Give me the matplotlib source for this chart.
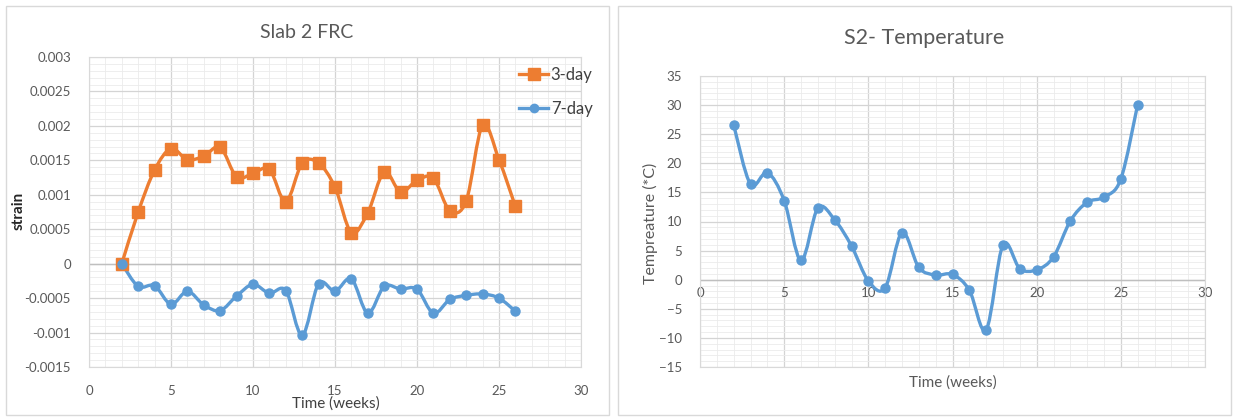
import numpy as np
import matplotlib
matplotlib.use("Agg")
import matplotlib.pyplot as plt
from matplotlib.path import Path
from matplotlib.patches import PathPatch, Rectangle
from matplotlib.lines import Line2D
from matplotlib.ticker import MultipleLocator

# ---------------- data ----------------
weeks = list(range(2, 27))
strain_3day = [0.0, 0.00075, 0.00136, 0.00167, 0.00151, 0.00156, 0.00169, 0.00126,
               0.00131, 0.00137, 0.00090, 0.00146, 0.00146, 0.00111, 0.00045, 0.00074,
               0.00133, 0.00104, 0.00121, 0.00124, 0.00077, 0.00091, 0.00201, 0.00151,
               0.00083]
strain_7day = [0.0, -0.00033, -0.00032, -0.00059, -0.00040, -0.00060, -0.00068, -0.00047,
               -0.00030, -0.00043, -0.00039, -0.00104, -0.00029, -0.00040, -0.00022, -0.00072,
               -0.00033, -0.00037, -0.00037, -0.00072, -0.00052, -0.00046, -0.00044, -0.00050,
               -0.00069]
temperature = [26.6, 16.4, 18.4, 13.6, 3.3, 12.3, 10.3, 5.8, -0.2, -1.4, 8.1, 2.1, 0.8,
               0.9, -1.8, -8.6, 6.0, 1.9, 1.7, 3.9, 10.1, 13.3, 14.2, 17.3, 30.1]

left_title = "Slab 2 FRC"
right_title = "S2- Temperature"
x_label = "Time (weeks)"
left_ylabel = "strain"
right_ylabel = "Tempreature (*C)"
series_names = ["3-day", "7-day"]

ORANGE = "#ED7D31"
BLUE = "#5B9BD5"
TXT = "#595959"
FONT = "Lato"
TICK_FS = 9.5

plt.rcParams['font.family'] = [FONT, 'DejaVu Sans']

W, H = 1233, 417
fig = plt.figure(figsize=(W / 100, H / 100), dpi=100)


def fx(px):
    return px / W


def fy(py):
    return 1 - py / H


def smooth_path(x, y):
    pts = np.column_stack([x, y]).astype(float)
    n = len(pts)
    verts = [pts[0]]
    codes = [Path.MOVETO]
    for i in range(n - 1):
        p0 = pts[i - 1] if i > 0 else pts[i]
        p1 = pts[i]
        p2 = pts[i + 1]
        p3 = pts[i + 2] if i + 2 < n else pts[i + 1]
        c1 = p1 + (p2 - p0) / 6.0
        c2 = p2 - (p3 - p1) / 6.0
        verts += [c1, c2, p2]
        codes += [Path.CURVE4] * 3
    return Path(verts, codes)


def style_axes(ax):
    for s in ax.spines.values():
        s.set_color("#d9d9d9")
        s.set_linewidth(0.8)
    ax.grid(which='major', color="#d4d4d4", linewidth=0.9)
    ax.grid(which='minor', color="#ebebeb", linewidth=0.6)
    ax.set_axisbelow(True)
    ax.tick_params(which='both', length=0, colors=TXT, labelsize=TICK_FS)


# panel borders
fig.patches.append(Rectangle((fx(6), fy(415)), fx(609 - 6), (415 - 6) / H,
                             transform=fig.transFigure, fill=False,
                             edgecolor="#d9d9d9", linewidth=1.0))
fig.patches.append(Rectangle((fx(618), fy(415)), fx(1231 - 618), (415 - 6) / H,
                             transform=fig.transFigure, fill=False,
                             edgecolor="#d9d9d9", linewidth=1.0))

# ---------------- left chart ----------------
ax1 = fig.add_axes([fx(89), fy(367), fx(581 - 89), (367 - 57) / H])
ax1.set_xlim(0, 30)
ax1.set_ylim(-0.0015, 0.003)
ax1.xaxis.set_major_locator(MultipleLocator(5))
ax1.xaxis.set_minor_locator(MultipleLocator(1))
ax1.yaxis.set_major_locator(MultipleLocator(0.0005))
ax1.yaxis.set_minor_locator(MultipleLocator(0.0001))
style_axes(ax1)
ax1.axhline(0, color="#bfbfbf", linewidth=1.0, zorder=1)
yt = ax1.get_yticks()
ax1.set_yticks(yt)
ax1.set_yticklabels([("%g" % v) if abs(v) > 1e-12 else "0" for v in yt])
ax1.set_ylim(-0.0015, 0.003)
ax1.tick_params(axis='y', pad=13)
ax1.tick_params(axis='x', pad=13)

for vals, col, mk, ms in [(strain_3day, ORANGE, 's', 8), (strain_7day, BLUE, 'o', 6.5)]:
    ax1.add_patch(PathPatch(smooth_path(weeks, vals), fill=False, edgecolor=col,
                            linewidth=2.4, zorder=3, capstyle='round', joinstyle='round'))
    ax1.plot(weeks, vals, linestyle='none', marker=mk, markersize=ms, color=col, zorder=4)

fig.text(fx(307), fy(33), left_title, ha='center', va='center', fontsize=14, color=TXT)
fig.text(fx(336), fy(404), x_label, ha='center', va='center', fontsize=11, color='#404040')
fig.text(fx(19), fy(211), left_ylabel, ha='center', va='center', rotation=90,
         fontsize=11, color='#262626', fontweight='bold')

handles = [Line2D([], [], color=ORANGE, marker='s', markersize=8, linewidth=2.4),
           Line2D([], [], color=BLUE, marker='o', markersize=6, linewidth=2.4)]
leg = fig.legend(handles, series_names, loc='upper left',
                 bbox_to_anchor=(fx(519), fy(67)), frameon=False, borderpad=0,
                 fontsize=12, labelspacing=1.1, handlelength=1.75, handletextpad=0.15,
                 borderaxespad=0)
for t in leg.get_texts():
    t.set_color('#404040')

# ---------------- right chart ----------------
ax2 = fig.add_axes([fx(700), fy(367), fx(1205 - 700), (367 - 76) / H])
ax2.set_xlim(0, 30)
ax2.set_ylim(-15, 35)
ax2.xaxis.set_major_locator(MultipleLocator(5))
ax2.xaxis.set_minor_locator(MultipleLocator(1))
ax2.yaxis.set_major_locator(MultipleLocator(5))
ax2.yaxis.set_minor_locator(MultipleLocator(1))
style_axes(ax2)
ax2.axhline(0, color="#bfbfbf", linewidth=1.0, zorder=1)
ax2.tick_params(axis='y', pad=13)
ax2.set_xticklabels([])
# x tick labels placed just under the zero line (Excel axis crossing at 0)
for xv in range(0, 31, 5):
    ax2.text(xv, -1.2, str(xv), ha='center', va='top', fontsize=TICK_FS, color=TXT, zorder=2)

ax2.add_patch(PathPatch(smooth_path(weeks, temperature), fill=False, edgecolor=BLUE,
                        linewidth=2.4, zorder=3, capstyle='round', joinstyle='round'))
ax2.plot(weeks, temperature, linestyle='none', marker='o', markersize=6.5, color=BLUE, zorder=4)

fig.text(fx(924), fy(38), right_title, ha='center', va='center', fontsize=15.5, color=TXT)
fig.text(fx(953), fy(383), x_label, ha='center', va='center', fontsize=11, color=TXT)
fig.text(fx(650), fy(223), right_ylabel, ha='center', va='center', rotation=90,
         fontsize=11.5, color=TXT)

fig.savefig("out.png", dpi=100, facecolor='white')
